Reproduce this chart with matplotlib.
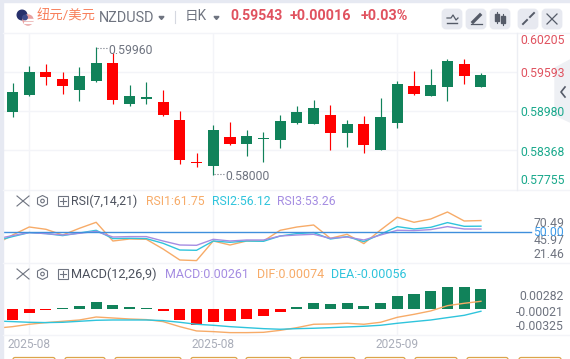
import matplotlib
matplotlib.use('Agg')
import matplotlib.pyplot as plt
from matplotlib.patches import Circle, FancyBboxPatch, Polygon, Rectangle

plt.rcParams['font.family'] = ['Roboto', 'Noto Sans CJK SC', 'DejaVu Sans']

# Candles, left to right
opens = [0.58967, 0.59233, 0.59593, 0.59484, 0.59311, 0.59452, 0.59734, 0.59093, 0.59171, 0.59124,
         0.58842, 0.58186, 0.58123, 0.58576, 0.58467, 0.58540, 0.58530, 0.58795, 0.58780, 0.58921,
         0.58639, 0.58780, 0.58373, 0.58795, 0.59374, 0.59218, 0.59358, 0.59718, 0.59358]
closes = [0.59280, 0.59593, 0.59515, 0.59374, 0.59530, 0.59734, 0.59155, 0.59218, 0.59202, 0.58921,
          0.58217, 0.58170, 0.58686, 0.58467, 0.58592, 0.58561, 0.58827, 0.58967, 0.59030, 0.58639,
          0.58780, 0.58451, 0.58889, 0.59405, 0.59249, 0.59390, 0.59765, 0.59530, 0.59546]
highs = [0.59421, 0.59687, 0.59718, 0.59593, 0.59671, 0.59984, 0.59890, 0.59390, 0.59437, 0.59311,
         0.58983, 0.58326, 0.58764, 0.58811, 0.58686, 0.58655, 0.58921, 0.59061, 0.59155, 0.59077,
         0.58842, 0.58905, 0.59186, 0.59452, 0.59609, 0.59640, 0.59796, 0.59796, 0.59577]
lows = [0.58889, 0.59218, 0.59390, 0.59249, 0.59139, 0.59437, 0.59093, 0.59061, 0.59093, 0.58905,
        0.58154, 0.58107, 0.57982, 0.58451, 0.58279, 0.58186, 0.58404, 0.58780, 0.58780, 0.58373,
        0.58420, 0.58326, 0.58373, 0.58717, 0.59233, 0.59218, 0.59139, 0.59405, 0.59358]
candle_green = [1, 1, 0, 0, 1, 1, 0, 1, 1, 0, 0, 0, 1, 0, 1, 1, 1, 1, 1, 0, 1, 0, 1, 1, 0, 1, 1, 0, 1]

# RSI lines start one bar before the first candle
line_x = list(range(-1, 29))
rsi1 = [38.0, 47.3, 55.3, 53.0, 47.3, 54.0, 60.0, 41.3, 43.3, 43.0, 33.3, 22.3, 21.7, 41.3, 37.3,
        41.3, 41.3, 52.0, 55.3, 57.3, 44.0, 48.0, 38.7, 52.3, 65.0, 60.0, 63.3, 70.3, 61.3, 61.75]
rsi2 = [41.3, 45.7, 49.7, 48.7, 46.7, 49.3, 52.0, 43.7, 44.0, 43.7, 39.0, 32.3, 32.0, 41.3, 40.0,
        41.3, 41.0, 46.3, 48.7, 49.7, 43.3, 45.7, 40.7, 48.0, 55.7, 53.3, 55.0, 59.7, 56.0, 56.12]
rsi3 = [43.3, 46.7, 49.7, 48.7, 47.3, 49.0, 51.0, 45.3, 45.7, 45.7, 41.3, 37.3, 37.0, 43.0, 41.3,
        42.3, 42.3, 46.3, 47.3, 48.0, 44.0, 45.3, 42.3, 47.3, 52.0, 51.7, 52.7, 55.7, 53.3, 53.26]

# MACD histogram and lines
macd_hist = [-0.00144, -0.00052, -0.00013, 0.00009, 0.00039, 0.00091, 0.00052, 0.00026, 0.00013, -0.00026,
             -0.00144, -0.00209, -0.00170, -0.00157, -0.00131, -0.00091, -0.00039, 0.00026, 0.00078, 0.00065,
             0.00078, 0.00039, 0.00078, 0.00170, 0.00196, 0.00235, 0.00287, 0.00287, 0.00261]
dif = [-0.00278, -0.00257, -0.00226, -0.00204, -0.00187, -0.00170, -0.00131, -0.00144, -0.00157, -0.00165,
       -0.00191, -0.00257, -0.00313, -0.00322, -0.00335, -0.00335, -0.00331, -0.00305, -0.00270, -0.00226,
       -0.00222, -0.00213, -0.00226, -0.00200, -0.00135, -0.00096, -0.00052, 0.00017, 0.00048, 0.00074]
dea = [-0.00183, -0.00191, -0.00200, -0.00204, -0.00200, -0.00187, -0.00174, -0.00170, -0.00170, -0.00170,
       -0.00178, -0.00200, -0.00226, -0.00239, -0.00257, -0.00270, -0.00283, -0.00291, -0.00283, -0.00278,
       -0.00270, -0.00261, -0.00252, -0.00239, -0.00213, -0.00191, -0.00170, -0.00139, -0.00109, -0.00056]

# Axis labels
date_ticks = [1, 12, 23]
date_labels = ['2025-08', '2025-08', '2025-09']
price_grid = [0.59593, 0.58980, 0.58368]
price_labels = ['0.60205', '0.59593', '0.58980', '0.58368', '0.57755']
rsi_labels = ['70.49', '45.97', '21.46']
macd_labels = ['0.00282', '-0.00021', '-0.00325']

GREEN = '#11825a'
RED = '#ff0000'
GRID = '#f3f4f8'
ORANGE = '#f7ab68'
CYAN = '#2fc4dc'
PURPLE = '#a58de2'
GREY = '#6f7480'
W, H = 570, 359
X0, X1 = 3, 517


def panel(top, bottom):
    # axes placed by pixel rows, x in candle index
    a = fig.add_axes([X0 / W, 1 - bottom / H, (X1 - X0) / W, (bottom - top) / H])
    a.set_xlim((X0 - 12.5) / 16.73, (X1 - 12.5) / 16.73)
    a.set_xticks(date_ticks)
    a.set_xticklabels([])
    a.set_yticks([])
    a.tick_params(length=0)
    a.grid(axis='x', color=GRID, lw=1)
    a.set_axisbelow(True)
    for s in a.spines.values():
        s.set_visible(False)
    a.patch.set_alpha(0)
    return a


fig = plt.figure(figsize=(W / 100, H / 100), dpi=100)

# Price panel
ax = panel(33, 190)
ax.set_ylim(0.57748, 0.60203)
ax.set_yticks(price_grid)
ax.set_yticklabels([])
ax.grid(axis='y', color=GRID, lw=1)
for i in range(len(opens)):
    c = GREEN if candle_green[i] else RED
    ax.vlines(i, lows[i], highs[i], color=c, lw=0.85)
    ax.bar(i, abs(closes[i] - opens[i]), bottom=min(opens[i], closes[i]), width=0.66, color=c)

# RSI panel
ax_rsi = panel(190, 263)
ax_rsi.set_ylim(50 - 30.7, 50 + 42.3)
ax_rsi.plot(line_x, rsi1, color=ORANGE, lw=1)
ax_rsi.plot(line_x, rsi2, color=CYAN, lw=1)
ax_rsi.plot(line_x, rsi3, color=PURPLE, lw=1)
ax_rsi.plot([-1, 31.0], [50, 50], color='#3f8fdc', lw=1, clip_on=False)

# MACD panel, lines have their own zero two pixels above the bars
ax_macd = panel(263, 335)
ax_macd.set_ylim(-0.00339, 0.00600)
bar_colors = [GREEN if v > 0 else RED for v in macd_hist]
ax_macd.bar(range(29), macd_hist, width=0.66, color=bar_colors)
ax_line = panel(263, 335)
ax_line.grid(False)
ax_line.set_ylim(-0.00366, 0.00574)
ax_line.plot(line_x, dif, color=ORANGE, lw=1)
ax_line.plot(line_x, dea, color=CYAN, lw=1)

# Page furniture in pixel coordinates
ov = fig.add_axes([0, 0, 1, 1])
ov.set_xlim(0, W)
ov.set_ylim(H, 0)
ov.axis('off')
ov.patch.set_alpha(0)
ov.add_patch(Rectangle((0, 0), W, 2, color='#e6e9f2'))
ov.add_patch(Rectangle((0, 0), 2.5, H, color='#e6e9f2'))
for y in [33, 190, 262.7, 335]:
    ov.plot([3, W], [y, y], color=GRID, lw=1)
ov.plot([516.7, 516.7], [33, 190], color='#eceef3', lw=1)


def label(x, y, s, color=GREY, size=8.8, ha='left', **kw):
    ov.text(x, y, s, color=color, fontsize=size, ha=ha, va='center', **kw)


# Header
ov.add_patch(Circle((22, 15), 4.8, color='#26306b'))
ov.add_patch(Circle((28, 20), 5, color='#e8a0a0'))
ov.add_patch(Rectangle((23.5, 19), 9, 1.2, color='#ffffff'))
ov.add_patch(Rectangle((23.5, 22), 9, 1.2, color='#ffffff'))
ov.add_patch(Circle((25, 17.5), 2.2, color='#3c4a8a'))
label(37, 16, '纽元/美元', color='#f8805c', size=9.6)
label(99, 18, 'NZDUSD', color=GREY, size=10.4)
ov.add_patch(Polygon([[159, 16.5], [164, 16.5], [161.5, 19.5]], color=GREY))
ov.plot([175, 175], [11, 23], color='#d5d8e0', lw=0.8)
label(185, 16, '日K', color=GREY, size=9.8)
ov.add_patch(Polygon([[214, 16.5], [219, 16.5], [216.5, 19.5]], color=GREY))
label(230, 16, '0.59543', color='#e0525f', size=10.1, fontweight='bold')
label(290, 16, '+0.00016', color='#e0525f', size=10.4, fontweight='bold')
label(361, 16, '+0.03%', color='#e0525f', size=10.4, fontweight='bold')

# Toolbar buttons
for bx in [442, 466, 490, 518, 542]:
    ov.add_patch(FancyBboxPatch((bx + 1, 10), 18, 18, boxstyle='round,pad=0,rounding_size=3', fc='#e7e9f0', ec='#e7e9f0', lw=2))
ov.plot([447, 451, 453, 456, 458], [18, 18, 15, 20, 18], color='#555b68', lw=0.9)
ov.plot([447, 457], [23, 23], color='#555b68', lw=1)
ov.plot([473, 480], [22, 15], color='#555b68', lw=2.4)
ov.plot([471, 482], [24, 24], color='#555b68', lw=0.9)
ov.add_patch(Rectangle((495, 14), 4, 7, color='#555b68'))
ov.add_patch(Rectangle((501, 16), 4, 7, color='#555b68'))
ov.plot([497, 497], [12, 23], color='#555b68', lw=0.8)
ov.plot([503, 503], [14, 25], color='#555b68', lw=0.8)
ov.plot([523, 527], [24, 20], color='#555b68', lw=1.4)
ov.plot([530, 534], [17, 13], color='#555b68', lw=1.4)
ov.plot([547, 557], [14, 24], color='#555b68', lw=0.9)
ov.plot([557, 547], [14, 24], color='#555b68', lw=0.9)

# Collapse tab on the right
ov.add_patch(Polygon([[570, 60], [555, 68], [555, 115], [570, 122]], color='#eef0f4', zorder=3))
ov.plot([565, 561, 565], [87, 92, 97], color='#555b68', lw=1.2, zorder=4)

# Price labels
for y, s in zip([41, 73.5, 113, 152.5, 180], price_labels):
    c = '#e0525f' if s in price_labels[:2] else '#1aa98c'
    label(520, y, s, color=c, size=8.8, zorder=5)

# High and low annotations
ov.plot([97, 107], [47.5, 47.5], color=GREY, lw=0.8, ls=':')
label(108, 50.5, '0.59960', size=8.8)
ov.plot([214, 224], [173.5, 173.5], color=GREY, lw=0.8, ls=':')
label(225, 176.5, '0.58000', size=8.8)

# RSI and MACD legend rows
for y in [201, 274]:
    ov.plot([17, 29], [y - 5, y + 5], color=GREY, lw=0.8)
    ov.plot([29, 17], [y - 5, y + 5], color=GREY, lw=0.8)
    ov.add_patch(Polygon([[42.5, y - 5.5], [47.5, y - 3], [47.5, y + 3], [42.5, y + 5.5], [37.5, y + 3], [37.5, y - 3]],
                         fc='none', ec=GREY, lw=0.8))
    ov.add_patch(Circle((42.5, y), 1.8, fc='none', ec=GREY, lw=0.8))
    ov.add_patch(Rectangle((57.5, y - 5), 10, 10, fc='none', ec=GREY, lw=0.8))
    ov.plot([59.5, 65.5], [y, y], color=GREY, lw=0.8)
    ov.plot([62.5, 62.5], [y - 3, y + 3], color=GREY, lw=0.8)
label(71, 201.5, 'RSI(7,14,21)', color='#4d525e', size=8.9)
label(146, 201.5, 'RSI1:61.75', color=ORANGE, size=8.8)
label(212, 201.5, 'RSI2:56.12', color=CYAN, size=8.8)
label(277, 201.5, 'RSI3:53.26', color=PURPLE, size=8.8)
label(71, 274.5, 'MACD(12,26,9)', color='#4d525e', size=9.2)
label(165, 274.5, 'MACD:0.00261', color=PURPLE, size=9)
label(257, 274.5, 'DIF:0.00074', color=ORANGE, size=9)
label(331, 274.5, 'DEA:-0.00056', color=CYAN, size=9)

# Right hand indicator labels
for y, s in zip([223.7, 240, 254.3], rsi_labels):
    label(564, y, s, ha='right', size=8.8)
label(564, 233, '50.00', color='#3f9be8', ha='right', size=8.8)
for y, s in zip([296.5, 312, 327], macd_labels):
    label(564, y, s, ha='right', size=8.8)

# Date labels
for i, s in zip(date_ticks, date_labels):
    ov.text(12.5 + 16.73 * i, 344, s, color='#a9adb9', fontsize=8.6, ha='center', va='center')

# Bottom buttons, just showing at the crop edge
button_edges = [(13, 55), (65, 105), (115, 181), (191, 237), (246, 291), (300, 355), (365, 405), (415, 457), (467, 508), (519, 561)]
for x0, x1 in button_edges:
    ov.add_patch(FancyBboxPatch((x0, 357.5), x1 - x0, 8, boxstyle='round,pad=0,rounding_size=2', fc='none', ec='#dca44a', lw=0.9))

fig.savefig('out.png', dpi=100)
